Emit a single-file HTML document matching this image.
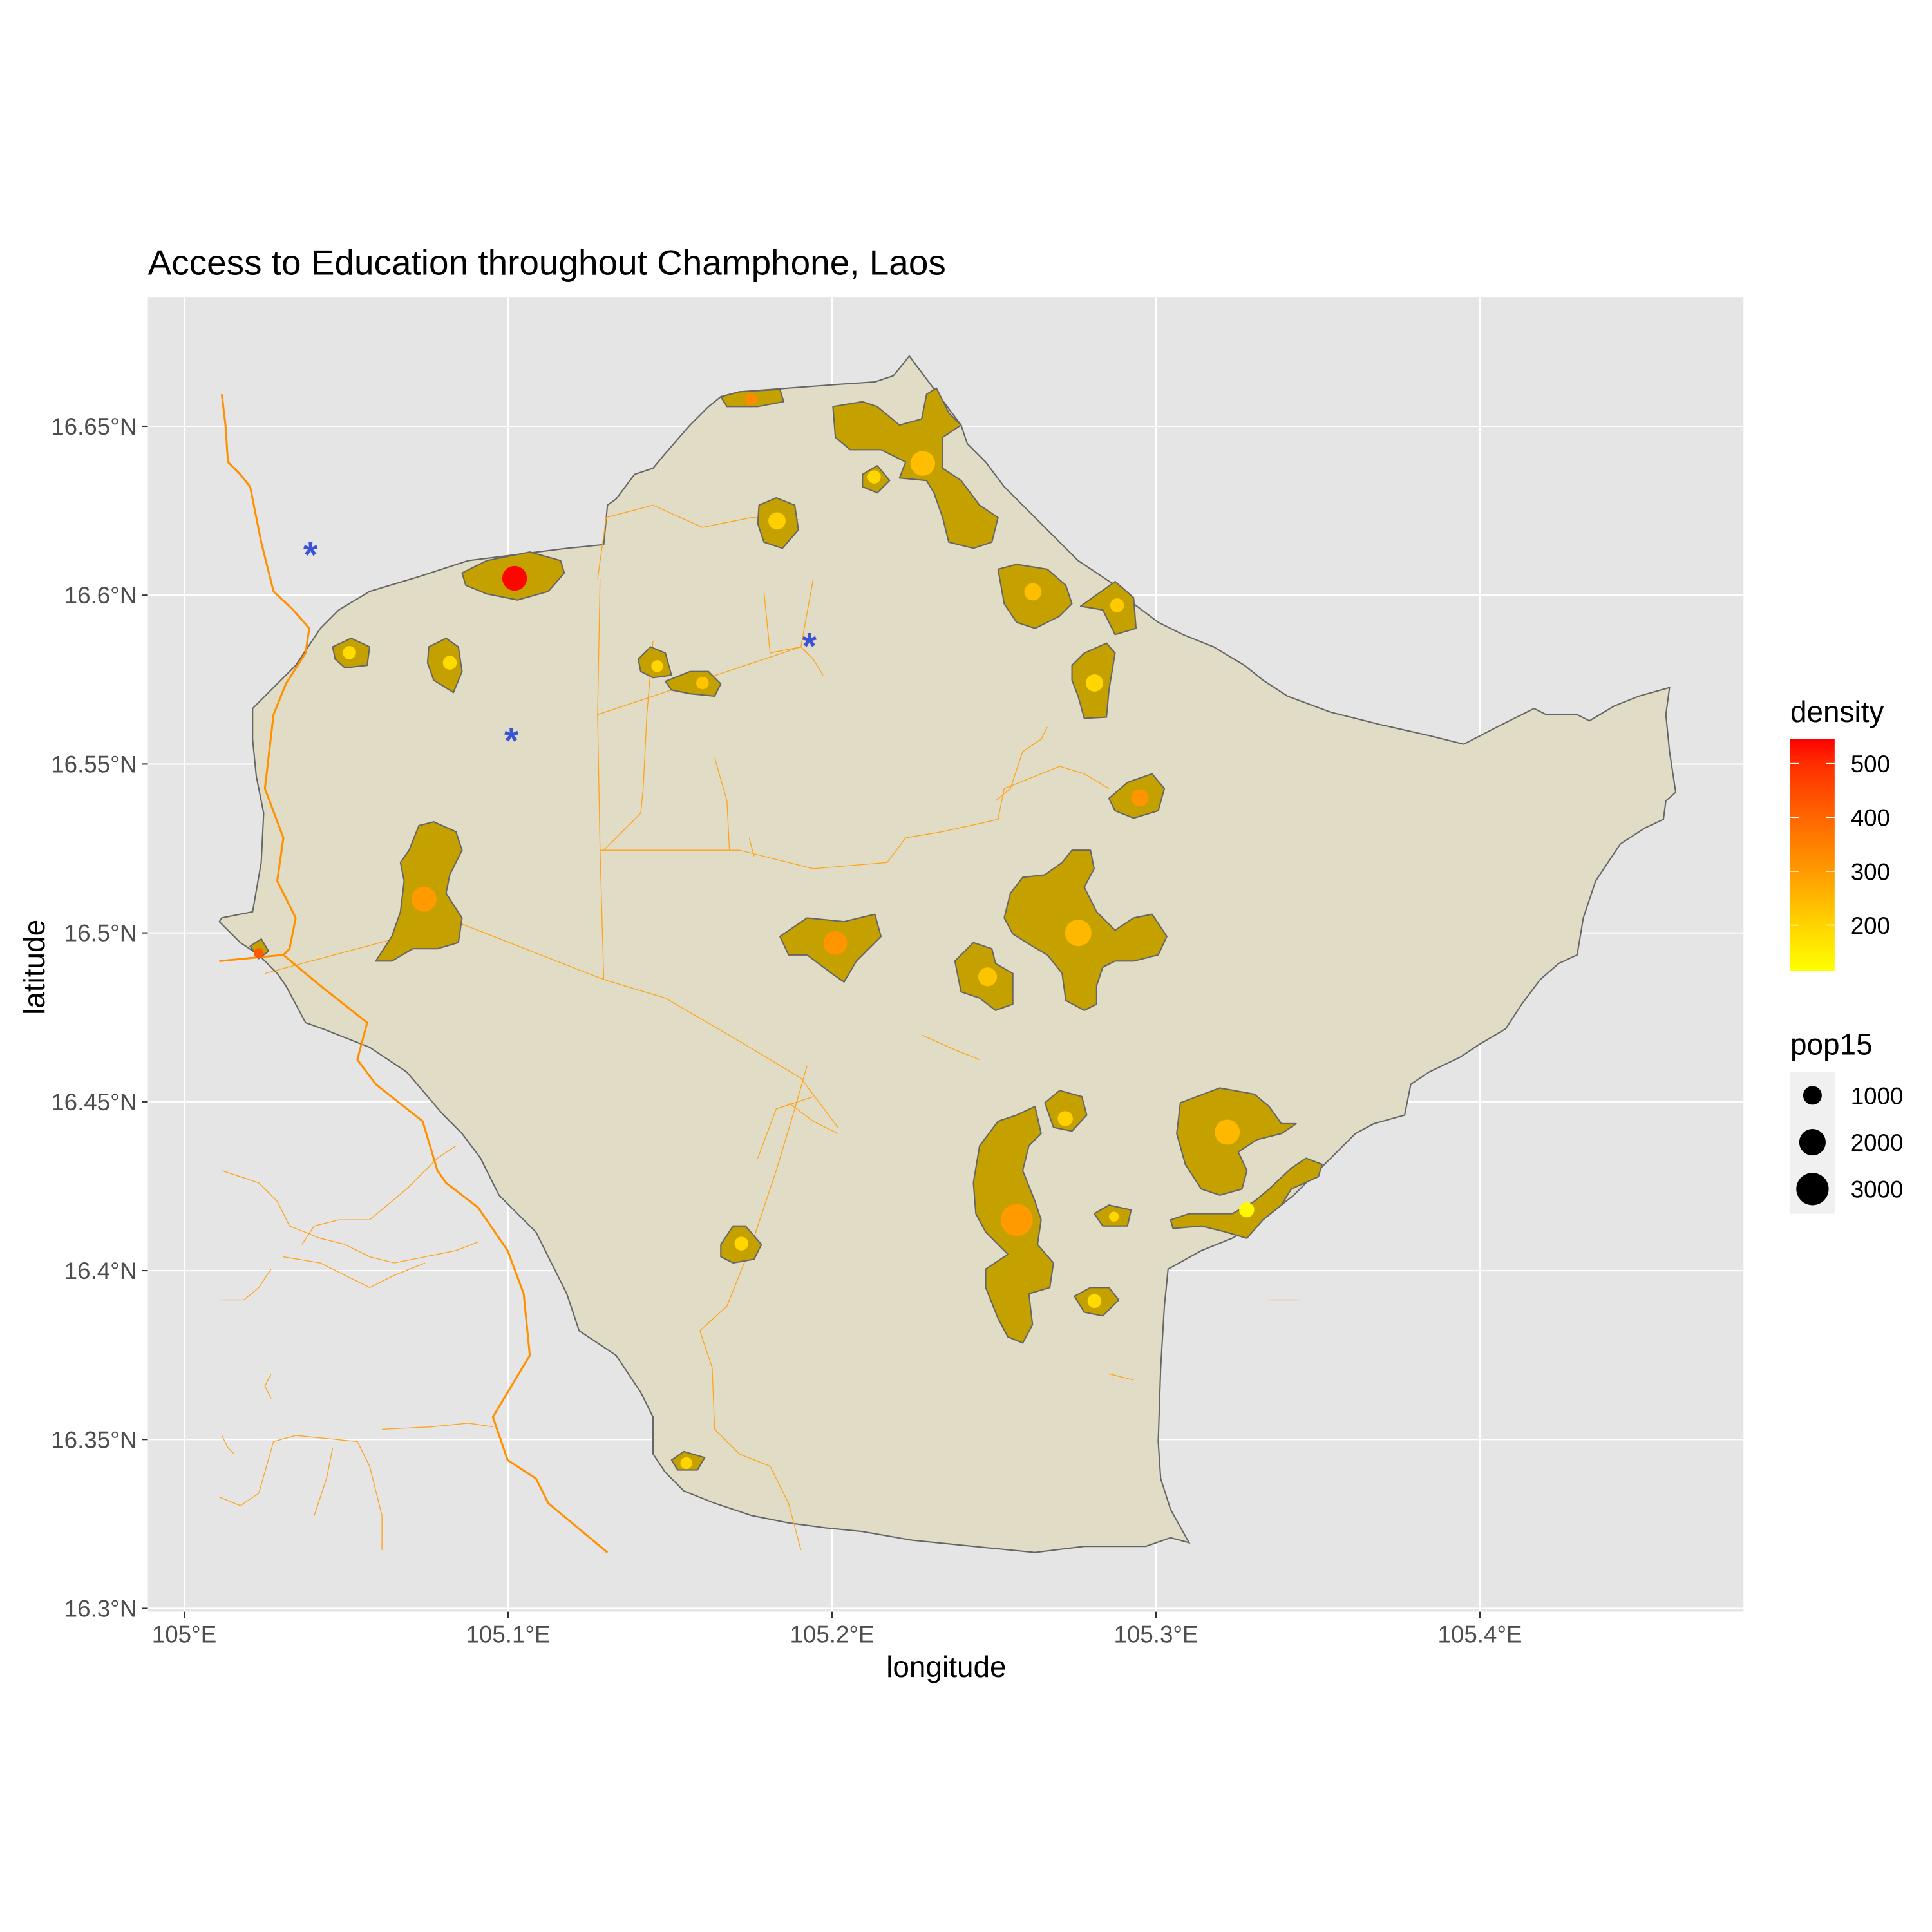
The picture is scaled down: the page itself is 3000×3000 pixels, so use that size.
<!DOCTYPE html>
<html><head><meta charset="utf-8"><style>
html,body{margin:0;padding:0;background:#fff;}
svg{display:block;}
text{font-family:"Liberation Sans",Arial,sans-serif;}
</style></head><body>
<svg id="chart" width="3000" height="3000" viewBox="0 0 1568 1568" xmlns="http://www.w3.org/2000/svg">
<rect x="0" y="0" width="1568" height="1568" fill="#fff"/>
<text x="120" y="223" font-size="28.7" fill="#000">Access to Education throughout Champhone, Laos</text>
<rect x="120" y="241" width="1295" height="1067" fill="#e5e5e5"/>
<g id="grid"></g>
<g id="geo">
<path fill="#e1dcc5" stroke="#666" stroke-width="1.1" d="M738,289 L750,305 765,325 780,345 785,360 800,375 815,395 830,410 845,425 860,440 875,455 890,465 905,475 920,490 940,505 960,515 985,525 1010,540 1025,552 1045,565 1080,578 1120,588 1160,597 1188,604 1215,590 1245,575 1255,580 1280,580 1290,585 1310,573 1330,565 1355,558 1352,580 1355,610 1360,643 1352,650 1350,665 1335,672 1315,685 1305,700 1295,715 1285,745 1280,775 1265,782 1250,795 1235,815 1222,835 1200,848 1185,858 1160,870 1145,880 1140,905 1115,912 1100,920 1075,945 1050,970 1025,990 1000,1005 975,1015 948,1030 945,1060 942,1110 940,1170 942,1200 950,1225 965,1252 950,1248 930,1255 880,1255 840,1260 790,1255 740,1250 700,1243 670,1240 640,1236 610,1230 580,1220 555,1210 540,1195 530,1180 530,1150 520,1130 500,1100 470,1080 460,1050 450,1030 435,1000 420,985 405,970 390,940 375,920 360,905 330,870 300,850 262,835 248,830 240,815 232,800 225,790 210,775 195,765 178,748 180,745 205,740 212,700 214,660 208,630 205,600 205,575 220,560 240,540 260,510 275,495 300,480 340,468 380,455 420,450 460,445 490,442 493,410 500,405 515,385 530,380 540,368 560,345 575,330 585,322 600,318 640,315 680,312 710,310 725,305 Z"/>
<g fill="none" stroke="#ffa31a" stroke-width="0.7">
<path d="M215,790 L320,762 375,750 490,795 540,810 600,845 650,875 680,915"/>
<path d="M485,580 L650,525 660,535 668,548"/>
<path d="M485,470 L492,420 530,410 570,428 610,420 650,422"/>
<path d="M487,470 L485,580 487,690 600,690 660,705 720,700 735,680 765,675 810,665 815,640 840,630 860,622 880,628 900,640"/>
<path d="M487,690 L490,795"/>
<path d="M530,520 L525,580 522,640 520,660 490,690"/>
<path d="M580,615 L590,650 592,690"/>
<path d="M608,680 L612,695"/>
<path d="M620,480 L625,530 650,525 660,470"/>
<path d="M655,865 L645,900 630,950 610,1010 590,1060 568,1080 578,1110 580,1160 600,1180 625,1190 640,1220 650,1258"/>
<path d="M660,890 L630,900 615,940"/>
<path d="M640,895 L660,910 680,920"/>
<path d="M748,840 L775,852 795,860"/>
<path d="M850,590 L845,600 830,610 820,640 808,650"/>
<path d="M180,950 L210,960 225,975 235,995 260,1005 280,1010 300,1020 320,1025 345,1020 370,1015 388,1008"/>
<path d="M230,1020 L260,1025 300,1045 320,1035 345,1025"/>
<path d="M245,1010 L255,995 275,990 300,990 330,965 355,940 370,930"/>
<path d="M178,1055 L198,1055 210,1045 220,1030"/>
<path d="M310,1160 L350,1158 380,1155 400,1158"/>
<path d="M180,1165 L185,1175 190,1180"/>
<path d="M178,1215 L195,1222 210,1212 222,1170 240,1165 270,1168 290,1170 300,1190 310,1230 310,1258"/>
<path d="M270,1175 L265,1200 255,1230"/>
<path d="M220,1115 L215,1125 220,1135"/>
<path d="M1030,1055 L1055,1055"/>
<path d="M900,1115 L920,1120"/>
</g>
<g fill="none" stroke="#ff9100" stroke-width="1.6" stroke-linejoin="round">
<path d="M180,320 L183,345 185,375 195,385 203,395 212,440 222,480 238,495 251,510 248,530 232,555 222,580 215,640 230,680 225,715 240,745 235,770 230,775 260,800 298,830 290,860 305,880 343,910 355,950 362,960 388,980 412,1015 425,1050 430,1100 400,1150 412,1185 435,1200 445,1220 493,1260"/>
<path d="M178,780 L230,775"/>
</g>
<g fill="#c5a100" stroke="#666" stroke-width="1.1" stroke-linejoin="round">
<path d="M585,322 L600,318 633,316 636,326 615,330 590,330Z"/>
<path d="M676,330 L700,326 712,330 730,345 748,340 752,320 760,315 770,335 780,345 765,355 765,380 780,390 795,410 810,420 805,440 790,445 770,440 765,420 758,400 752,390 730,388 735,375 715,365 690,365 678,355Z"/>
<path d="M700,385 L712,378 722,390 712,400 700,395Z"/>
<path d="M616,410 L630,404 645,410 648,430 635,445 620,440 615,425Z"/>
<path d="M375,465 L395,455 430,448 455,455 458,465 445,480 420,487 395,482 378,475Z"/>
<path d="M810,462 L825,458 850,462 865,475 870,490 860,500 840,510 825,505 815,490Z"/>
<path d="M877,492 L905,472 920,485 922,510 905,515 895,495Z"/>
<path d="M270,525 L285,518 300,525 298,540 280,542 272,535Z"/>
<path d="M348,525 L362,518 372,525 375,545 368,562 352,552 347,538Z"/>
<path d="M518,535 L528,525 540,530 545,548 530,550 520,545Z"/>
<path d="M540,553 L560,545 575,545 585,555 580,565 560,563 545,560Z"/>
<path d="M870,540 L880,530 898,522 905,530 900,560 898,582 880,583 875,565 870,552Z"/>
<path d="M900,648 L915,635 935,628 945,640 940,658 920,664 905,658Z"/>
<path d="M305,780 L318,760 325,740 328,715 325,700 332,690 340,670 352,667 370,675 375,690 365,710 362,725 375,745 372,765 355,770 335,770 318,780Z"/>
<path d="M203,768 L212,762 218,772 210,778Z"/>
<path d="M633,760 L655,745 685,748 710,742 715,760 705,770 695,780 685,797 675,790 655,775 640,775Z"/>
<path d="M820,725 L830,712 848,710 862,700 870,690 885,690 888,705 880,720 890,740 905,755 920,745 935,742 947,760 940,775 920,780 905,780 895,785 890,800 890,815 880,820 865,812 862,790 850,775 838,768 822,758 815,745Z"/>
<path d="M775,780 L790,765 805,770 808,782 822,790 822,815 808,820 795,810 780,805Z"/>
<path d="M848,895 L860,885 878,890 882,905 870,918 855,915Z"/>
<path d="M958,895 L990,883 1018,888 1030,898 1040,912 1052,912 1040,920 1020,925 1005,935 1012,950 1008,965 990,970 975,965 962,945 955,920Z"/>
<path d="M950,990 L965,985 1000,985 1018,975 1030,965 1048,948 1060,940 1073,945 1070,955 1048,965 1040,978 1025,990 1012,1005 995,1000 975,995 952,997Z"/>
<path d="M795,930 L810,910 825,905 840,898 845,920 835,930 830,950 840,975 845,990 842,1010 855,1025 852,1045 835,1050 838,1075 830,1090 818,1085 810,1070 800,1045 800,1030 818,1018 800,1000 792,985 790,960Z"/>
<path d="M888,985 L900,978 918,982 915,995 895,995Z"/>
<path d="M585,1010 L595,995 605,995 618,1010 612,1022 595,1025 585,1020Z"/>
<path d="M872,1052 L885,1045 900,1045 908,1055 895,1068 880,1065Z"/>
<path d="M545,1185 L555,1178 572,1183 566,1193 550,1193Z"/>
</g>
</g>
<g id="points"></g>
<g id="schools"></g>
<g id="axes"></g>
<text x="768" y="1361" font-size="24" text-anchor="middle" fill="#000">longitude</text>
<text transform="translate(36,785) rotate(-90)" font-size="24" text-anchor="middle" fill="#000">latitude</text>
<g id="legend">
<defs><linearGradient id="dgrad" x1="0" y1="1" x2="0" y2="0">
<stop offset="0" stop-color="#ffff00"/><stop offset="0.19" stop-color="#ffd600"/><stop offset="0.43" stop-color="#ff9a00"/><stop offset="0.67" stop-color="#ff6400"/><stop offset="0.9" stop-color="#ff2c00"/><stop offset="1" stop-color="#ff0000"/></linearGradient></defs>
<text x="1453" y="586" font-size="24" fill="#000">density</text>
<rect x="1453" y="600" width="36" height="188" fill="url(#dgrad)"/>
<g id="cbticks"></g>
<text x="1453" y="856" font-size="24" fill="#000">pop15</text>
<rect x="1453" y="870" width="36" height="115" fill="#f0f0f0"/>
<g id="sizekeys"></g>
</g>
</svg>
<script>
const lonVals=[105.175,105.228,105.213,105.183,105.102,105.262,105.288,105.051,105.082,105.146,105.160,105.281,105.295,105.074,105.023,105.201,105.276,105.248,105.272,105.322,105.257,105.287,105.328,105.172,105.281,105.155];
const latVals=[16.658,16.639,16.635,16.622,16.605,16.601,16.597,16.583,16.580,16.579,16.574,16.574,16.540,16.510,16.494,16.497,16.500,16.487,16.445,16.441,16.415,16.416,16.418,16.408,16.391,16.343];
const popVals=[400,1750,500,850,1750,850,550,500,550,400,450,850,850,1800,280,1600,2000,1000,650,1800,2950,280,650,550,550,400];
const densVals=[330,240,200,210,540,240,220,190,190,200,230,200,310,300,420,310,250,230,210,250,300,200,130,200,190,200];
const schoolLon=[105.039,105.101,105.193];
const schoolLat=[16.613,16.558,16.586];
const lonTicks=[105,105.1,105.2,105.3,105.4];
const lonTickLabels=["105°E","105.1°E","105.2°E","105.3°E","105.4°E"];
const latTicks=[16.3,16.35,16.4,16.45,16.5,16.55,16.6,16.65];
const latTickLabels=["16.3°N","16.35°N","16.4°N","16.45°N","16.5°N","16.55°N","16.6°N","16.65°N"];
const densTicks=[200,300,400,500];
const sizeKeys=[1000,2000,3000];

const NS="http://www.w3.org/2000/svg";
function xS(lon){return 149.5+(lon-105)*2629;}
function yS(lat){return 346+(16.65-lat)*2741;}
function rS(p){return Math.sqrt(p)*0.24;}
const dMin=115,dMax=545;
function yD(d){return 788-(d-dMin)/(dMax-dMin)*188;}
const stops=[[115,[255,255,0]],[200,[255,214,0]],[300,[255,154,0]],[400,[255,100,0]],[500,[255,44,0]],[545,[255,0,0]]];
function cS(d){
  for(let i=0;i<stops.length-1;i++){
    const a=stops[i],b=stops[i+1];
    if(d<=b[0]||i===stops.length-2){
      let t=Math.max(0,Math.min(1,(d-a[0])/(b[0]-a[0])));
      const c=a[1].map((v,k)=>Math.round(v+(b[1][k]-v)*t));
      return "rgb("+c.join(",")+")";
    }
  }
}
function mk(tag,attrs,parent){const e=document.createElementNS(NS,tag);for(const k in attrs)e.setAttribute(k,attrs[k]);parent.appendChild(e);return e;}

const grid=document.getElementById('grid');
lonTicks.forEach(v=>{const l=mk('line',{x1:xS(v),x2:xS(v),y1:241,y2:1308,stroke:'#fff','stroke-width':1.1},grid);

});
latTicks.forEach(v=>{const l=mk('line',{x1:120,x2:1415,y1:yS(v),y2:yS(v),stroke:'#fff','stroke-width':1.1},grid);

});

const axes=document.getElementById('axes');
lonTicks.forEach((v,i)=>{
  const t=mk('line',{x1:xS(v),x2:xS(v),y1:1308,y2:1313,stroke:'#333','stroke-width':1.1},axes);
  
  
  const tx=mk('text',{x:xS(v),y:1333,'font-size':19.2,'text-anchor':'middle',fill:'#4d4d4d'},axes);
  tx.textContent=lonTickLabels[i];
  
  
});
latTicks.forEach((v,i)=>{
  const t=mk('line',{x1:115,x2:120,y1:yS(v),y2:yS(v),stroke:'#333','stroke-width':1.1},axes);
  
  
  const tx=mk('text',{x:111,y:yS(v)+6.8,'font-size':19.2,'text-anchor':'end',fill:'#4d4d4d'},axes);
  tx.textContent=latTickLabels[i];
  
  
});

const pts=document.getElementById('points');
lonVals.forEach((v,i)=>{
  const c=mk('circle',{cx:xS(v),cy:yS(latVals[i]),r:rS(popVals[i]),fill:cS(densVals[i])},pts);
  
  
});

const sch=document.getElementById('schools');
schoolLon.forEach((v,i)=>{
  const t=mk('text',{x:xS(v),y:yS(schoolLat[i])+13,'font-size':30,'font-weight':'bold','text-anchor':'middle',fill:'#3a52d8'},sch);
  t.textContent='*';
  
  
});

const cb=document.getElementById('cbticks');
densTicks.forEach(d=>{
  const a=mk('line',{x1:1453,x2:1460,y1:yD(d),y2:yD(d),stroke:'#fff','stroke-width':0.8},cb);
  
  
  const b=mk('line',{x1:1482,x2:1489,y1:yD(d),y2:yD(d),stroke:'#fff','stroke-width':0.8},cb);
  
  
  const t=mk('text',{x:1502,y:yD(d)+7,'font-size':19.2,fill:'#000'},cb);
  t.textContent=String(d);
  
  
});
const sk=document.getElementById('sizekeys');
sizeKeys.forEach((p,i)=>{
  const y=889+i*38;
  const c=mk('circle',{cx:1471,cy:y,r:rS(p),fill:'#000'},sk);
  
  
  const t=mk('text',{x:1502,y:y+7,'font-size':19.2,fill:'#000'},sk);
  t.textContent=String(p);
  
  
});
</script>
</body></html>
